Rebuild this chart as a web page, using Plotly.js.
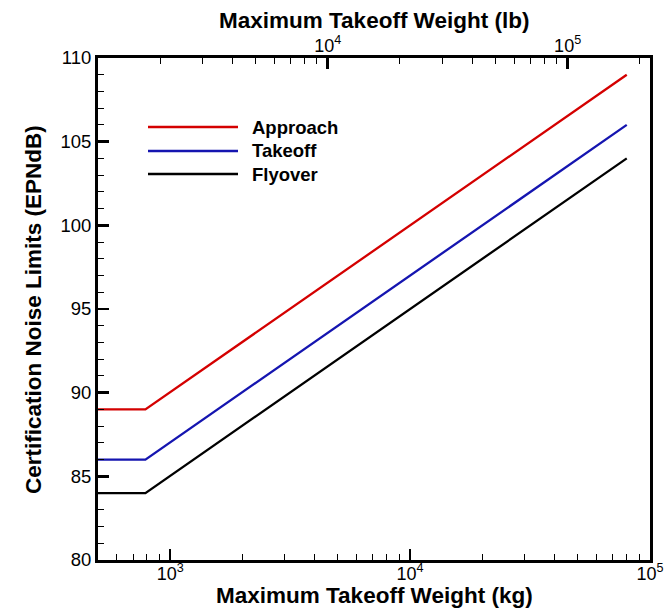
<!DOCTYPE html>
<html>
<head>
<meta charset="utf-8">
<script src="https://cdn.plot.ly/plotly-3.0.1.min.js"></script>
<style>html,body{margin:0;padding:0;background:#fff}#chart{width:665px;height:608px}</style>
</head>
<body>
<div id="chart"></div>
<script>
// Data
const seriesNames = ["Approach", "Takeoff", "Flyover"];
const massKg = [500, 788, 80000];
const approach = [89, 89, 109];
const takeoff = [86, 86, 106];
const flyover = [84, 84, 104];
const kgTickVals = [1e3, 1e4, 1e5];
const kgTickText = ["10<sup>3</sup>", "10<sup>4</sup>", "10<sup>5</sup>"];
const lbTickVals = [1e4, 1e5];
const lbTickText = ["10<sup>4</sup>", "10<sup>5</sup>"];
const yTickVals = [80, 85, 90, 95, 100, 105, 110];
const titles = {
  bottom: "Maximum Takeoff Weight (kg)",
  top: "Maximum Takeoff Weight (lb)",
  left: "Certification Noise Limits (EPNdB)"
};
const KG_TO_LB = 2.20462;

const colors = ["#d40000", "#1515b0", "#000000"];
const seriesY = [approach, takeoff, flyover];

const traces = seriesY.map((y, i) => ({
  x: massKg, y: y, type: "scatter", mode: "lines", name: seriesNames[i],
  line: {color: colors[i], width: 2.3}, showlegend: false, hoverinfo: "skip"
}));
// invisible trace carrying the lb axis
traces.push({
  x: massKg.map(v => v * KG_TO_LB), y: approach, xaxis: "x2", yaxis: "y",
  type: "scatter", mode: "lines", line: {width: 0, color: "rgba(0,0,0,0)"},
  showlegend: false, hoverinfo: "skip"
});

function minors(lo, hi) {
  const out = [];
  for (let d = lo; d <= hi; d *= 10) for (let m = 1; m <= 9; m++) out.push(m * d);
  return out;
}
const xMin = Math.log10(500), xMax = 5;
const font = {family: "Liberation Sans, Arial, sans-serif", color: "#000"};
const PT = 58, PB = 560, PL = 98, PR = 650;
const px2x = p => (p - PL) / (PR - PL);
const px2y = p => (PB - p) / (PB - PT);

const shapes = [], annotations = [];
// legend drawn manually (long line samples)
const legY = [127, 151, 174];
seriesNames.forEach((n, i) => {
  const yp = px2y(legY[i]);
  shapes.push({type: "line", xref: "paper", yref: "paper",
    x0: px2x(148), x1: px2x(238), y0: yp, y1: yp,
    line: {color: colors[i], width: 2.3}});
  annotations.push({xref: "paper", yref: "paper", x: px2x(250), y: yp,
    xanchor: "left", yanchor: "middle", showarrow: false, text: "<b>" + n + "</b>",
    font: Object.assign({size: 18.5}, font)});
});
// axis titles
annotations.push({xref: "paper", yref: "paper", x: 0.5, y: px2y(595), xanchor: "center", yanchor: "middle",
  showarrow: false, text: "<b>" + titles.bottom + "</b>", font: Object.assign({size: 22.5}, font)});
annotations.push({xref: "paper", yref: "paper", x: 0.5, y: px2y(20), xanchor: "center", yanchor: "middle",
  showarrow: false, text: "<b>" + titles.top + "</b>", font: Object.assign({size: 22.5}, font)});
annotations.push({xref: "paper", yref: "paper", x: px2x(33), y: px2y(310), xanchor: "center", yanchor: "middle",
  textangle: -90, showarrow: false, text: "<b>" + titles.left + "</b>", font: Object.assign({size: 22.5}, font)});

const layout = {
  width: 665, height: 608,
  margin: {l: PL, r: 665 - PR, t: PT, b: 608 - PB},
  paper_bgcolor: "#fff", plot_bgcolor: "#fff",
  showlegend: false,
  font: Object.assign({size: 18.5}, font),
  xaxis: {
    type: "log", range: [xMin, xMax], showgrid: false, zeroline: false,
    showline: true, linewidth: 3, linecolor: "#000", mirror: true,
    ticks: "inside", ticklen: 11, tickwidth: 2.5, tickcolor: "#000",
    tickmode: "array", tickvals: kgTickVals, ticktext: kgTickText,
    tickfont: Object.assign({size: 18}, font), ticklabelstandoff: -5,
    minor: {tickmode: "array", tickvals: minors(100, 1e5), ticks: "inside", ticklen: 6, tickwidth: 1, tickcolor: "#000", showgrid: false}
  },
  xaxis2: {
    type: "log", overlaying: "x", side: "top", anchor: "y",
    range: [Math.log10(500 * KG_TO_LB), Math.log10(1e5 * KG_TO_LB)],
    showgrid: false, zeroline: false, showline: true, linewidth: 3, linecolor: "#000",
    ticks: "inside", ticklen: 11, tickwidth: 2.5, tickcolor: "#000",
    tickmode: "array", tickvals: lbTickVals, ticktext: lbTickText,
    tickfont: Object.assign({size: 18}, font), ticklabelstandoff: -4,
    minor: {tickmode: "array", tickvals: minors(1000, 1e6), ticks: "inside", ticklen: 6, tickwidth: 1, tickcolor: "#000", showgrid: false}
  },
  yaxis: {
    range: [80, 110], showgrid: false, zeroline: false,
    showline: true, linewidth: 3, linecolor: "#000", mirror: true,
    ticks: "inside", ticklen: 11, tickwidth: 2.5, tickcolor: "#000",
    tickmode: "array", tickvals: yTickVals,
    tickfont: Object.assign({size: 18.5}, font),
    minor: {dtick: 1, ticks: "inside", ticklen: 6, tickwidth: 1, tickcolor: "#000", showgrid: false}
  },
  shapes: shapes,
  annotations: annotations
};

Plotly.newPlot("chart", traces, layout, {staticPlot: true, displayModeBar: false});
</script>
</body>
</html>
